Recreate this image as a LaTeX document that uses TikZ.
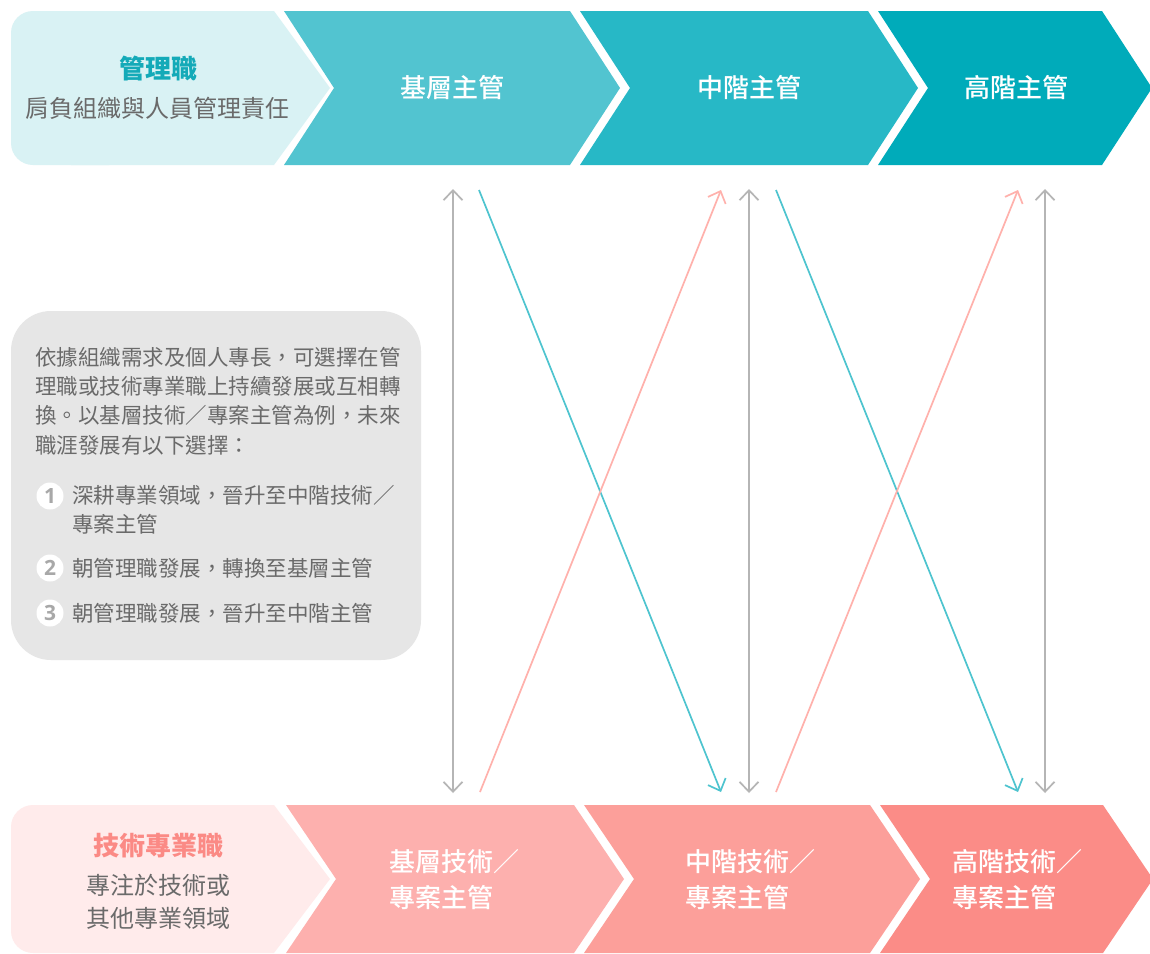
\documentclass[tikz,border=0pt]{standalone}
\usepackage{fontspec}
\setmainfont{Noto Sans CJK TC}
\newfontfamily\medfont{Noto Sans CJK TC Medium}
\newfontfamily\digitfont{Open Sans}
\usetikzlibrary{arrows.meta}
\definecolor{tLight}{HTML}{D9F2F4}
\definecolor{tOne}{HTML}{52C4D0}
\definecolor{tTwo}{HTML}{27B8C6}
\definecolor{tThree}{HTML}{00ABBA}
\definecolor{tText}{HTML}{14AAB8}
\definecolor{pLight}{HTML}{FFEBEB}
\definecolor{pOne}{HTML}{FDB0AE}
\definecolor{pTwo}{HTML}{FC9F9A}
\definecolor{pThree}{HTML}{FB8C87}
\definecolor{pText}{HTML}{FB8A85}
\definecolor{greyBox}{HTML}{E6E6E6}
\definecolor{greyText}{HTML}{6A6A6A}
\definecolor{greyArrow}{HTML}{B5B5B5}
\definecolor{greyNum}{HTML}{A8A8A8}
\definecolor{tealArrow}{HTML}{4EC4CF}
\definecolor{pinkArrow}{HTML}{FFB1AC}
\newcommand\mychev[5]{% L, R, top, bottom, colour
  \fill[#5] (#1,#3) -- (#2,#3) -- ({#2+50},{(#3+#4)/2}) -- (#2,#4) -- (#1,#4) -- ({#1+50},{(#3+#4)/2}) -- cycle;}
\newcommand\myhead[5]{% L(round), R, top, bottom, colour
  \fill[#5,rounded corners=22pt] (#1,#3) rectangle ({#1+120},#4);
  \fill[#5] ({#1+60},#3) -- (#2,#3) -- ({#2+56},{(#3+#4)/2}) -- (#2,#4) -- ({#1+60},#4) -- cycle;}
\begin{document}
\begin{tikzpicture}[x=1pt,y=-1pt,
  chevlabel/.style={text=white,font=\fontsize{26}{36}\medfont,align=left},
  headtitle/.style={font=\fontsize{26}{34}\selectfont\bfseries},
  headsub/.style={text=greyText,font=\fontsize{24}{32}\selectfont,align=center},
  boxtext/.style={text=greyText,font=\fontsize{21.5}{29.3}\selectfont,align=left,anchor=west,inner sep=0pt},
  numdot/.style={circle,fill=white,minimum size=27pt,inner sep=0pt,text=greyNum,font=\fontsize{21}{21}\digitfont\bfseries},
  garrow/.style={draw=greyArrow,line width=1.7pt,{Straight Barb[length=10pt,width=19pt]}-{Straight Barb[length=10pt,width=19pt]}},
  tarrow/.style={draw=tealArrow,line width=1.7pt,-{Straight Barb[length=10pt,width=19pt]}},
  parrow/.style={draw=pinkArrow,line width=1.7pt,-{Straight Barb[length=10pt,width=19pt]}}]
\useasboundingbox (0,0) rectangle (1150,953);
\fill[white] (0,0) rectangle (1150,953);
% top row
\myhead{11}{274}{11}{165}{tLight}
\mychev{284}{570}{11}{165}{tOne}
\mychev{580}{868}{11}{165}{tTwo}
\mychev{878}{1102}{11}{165}{tThree}
% bottom row
\myhead{11}{274}{805}{953}{pLight}
\mychev{286}{574}{805}{953}{pOne}
\mychev{584}{870}{805}{953}{pTwo}
\mychev{880}{1103}{805}{953}{pThree}
% top texts
\node[headtitle,text=tText] (mgmt) at (158,69) {管理職};
\node[headsub] (mgmtsub) at (157,108) {肩負組織與人員管理責任};
\node[chevlabel] (m1) at (452,88) {基層主管};
\node[chevlabel] (m2) at (749,88) {中階主管};
\node[chevlabel] (m3) at (1016,88) {高階主管};
% bottom texts
\node[headtitle,text=pText] (tech) at (158,846) {技術專業職};
\node[headsub,font=\fontsize{24}{32.5}\selectfont] (techsub) at (158,902) {專注於技術或\\其他專業領域};
\node[chevlabel] (p1) at (454,880) {基層技術／\\專案主管};
\node[chevlabel] (p2) at (750,880) {中階技術／\\專案主管};
\node[chevlabel] (p3) at (1017,880) {高階技術／\\專案主管};
% grey box
\fill[greyBox,rounded corners=40pt] (11,311) rectangle (421,660);
\node[boxtext] (para) at (35,401) {依據組織需求及個人專長，可選擇在管\\理職或技術專業職上持續發展或互相轉\\換。以基層技術／專案主管為例，未來\\職涯發展有以下選擇：};
\node[numdot] (n1) at (50,496) {1};
\node[numdot] (n2) at (50,568) {2};
\node[numdot] (n3) at (50,613) {3};
\node[boxtext] (i1) at (72,510) {深耕專業領域，晉升至中階技術／\\專案主管};
\node[boxtext] (i2) at (72,568) {朝管理職發展，轉換至基層主管};
\node[boxtext] (i3) at (72,613) {朝管理職發展，晉升至中階主管};
% arrow ends
\coordinate (ga) at (453,189); \coordinate (gA) at (453,793);
\coordinate (gb) at (749,189); \coordinate (gB) at (749,793);
\coordinate (gc) at (1045,189); \coordinate (gC) at (1045,793);
\coordinate (ta) at (479,190); \coordinate (tA) at (721,792);
\coordinate (tb) at (776,190); \coordinate (tB) at (1018,792);
\coordinate (pa) at (480,792); \coordinate (pA) at (721,190);
\coordinate (pb) at (776,792); \coordinate (pB) at (1018,190);
\draw[garrow] (ga) -- (gA);
\draw[garrow] (gb) -- (gB);
\draw[garrow] (gc) -- (gC);
\draw[tarrow] (ta) -- (tA);
\draw[tarrow] (tb) -- (tB);
\draw[parrow] (pa) -- (pA);
\draw[parrow] (pb) -- (pB);
\end{tikzpicture}
\end{document}
